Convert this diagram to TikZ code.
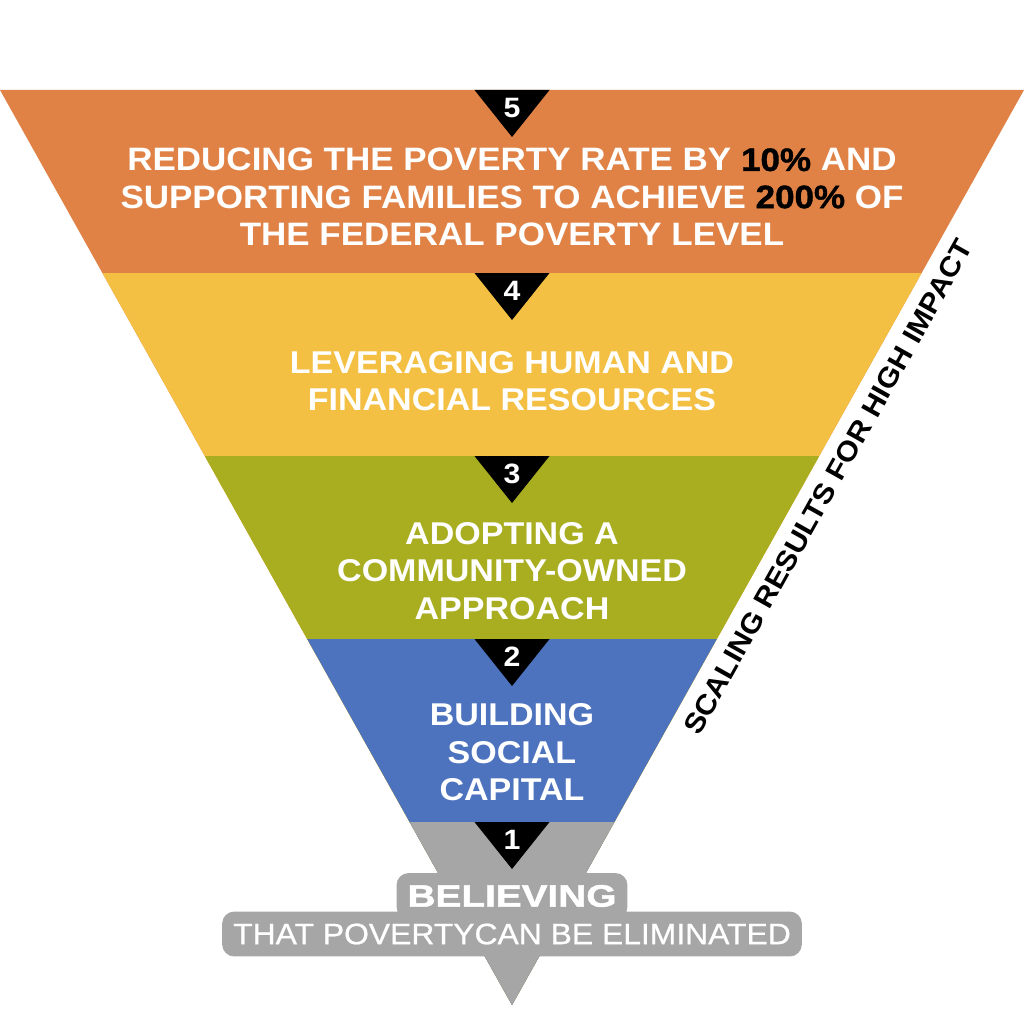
\documentclass[tikz,border=0pt]{standalone}
\usepackage{fontspec}
\setmainfont[FakeStretch=1.08]{Liberation Sans}
\newfontfamily\believefont[FakeStretch=1.25,FakeBold=1.5]{Liberation Sans}
\newfontfamily\linefont[FakeStretch=1.08,FakeBold=0.8]{Liberation Sans}
\newfontfamily\heavyfont[FakeStretch=1.08,FakeBold=1.2]{Liberation Sans}
\definecolor{band5}{RGB}{224,130,70}
\definecolor{band4}{RGB}{243,192,67}
\definecolor{band3}{RGB}{168,174,32}
\definecolor{band2}{RGB}{77,114,190}
\definecolor{band1}{RGB}{166,166,166}
\tikzset{
  bandtext/.style={text=white, align=center, font=\bfseries\fontsize{31.5}{37.5}\selectfont},
  numtext/.style={text=white, font=\bfseries\fontsize{28}{28}\selectfont},
  halo/.style={fill=band1, rounded corners=12pt, inner xsep=11pt, inner ysep=12pt, text=white}
}
\begin{document}
\begin{tikzpicture}[x=1pt,y=-1pt]
  \useasboundingbox (0,0) rectangle (1024,1024);
  \fill[band5] (0,90) -- (1024,90) -- (512,1005) -- cycle;
  \fill[band4] (102.4,273) -- (921.6,273) -- (512,1005) -- cycle;
  \fill[band3] (204.8,456) -- (819.2,456) -- (512,1005) -- cycle;
  \fill[band2] (307.2,639) -- (716.8,639) -- (512,1005) -- cycle;
  \fill[band1] (409.6,822) -- (614.4,822) -- (512,1005) -- cycle;
  \begin{scope}[black]
    \fill (474.5,90) -- (549.5,90) -- (512,137) -- cycle;
    \fill (474.5,273) -- (549.5,273) -- (512,320) -- cycle;
    \fill (474.5,456) -- (549.5,456) -- (512,503) -- cycle;
    \fill (474.5,639) -- (549.5,639) -- (512,686) -- cycle;
    \fill (474.5,822) -- (549.5,822) -- (512,869) -- cycle;
  \end{scope}
  \draw
    (512,108) node[numtext] (n5){5}
    (512,291) node[numtext] (n4){4}
    (512,474) node[numtext] (n3){3}
    (512,657) node[numtext] (n2){2}
    (512,840) node[numtext] (n1){1};
  \node[bandtext, font=\bfseries\fontsize{32.4}{37.2}\selectfont] (t5) at (512,197)
    {REDUCING THE POVERTY RATE BY {\heavyfont\bfseries\color{black}10\%} AND\\
     SUPPORTING FAMILIES TO ACHIEVE {\heavyfont\bfseries\color{black}200\%} OF\\
     THE FEDERAL POVERTY LEVEL};
  \node[bandtext] (t4) at (512,381) {LEVERAGING HUMAN AND\\FINANCIAL RESOURCES};
  \node[bandtext] (t3) at (512,571) {ADOPTING A\\COMMUNITY-OWNED\\APPROACH};
  \node[bandtext] (t2) at (512,752.5) {BUILDING\\SOCIAL\\CAPITAL};
  \node[halo, font=\linefont\fontsize{29.5}{29.5}\selectfont] (t1b) at (512,934)
    {THAT POVERTYCAN BE ELIMINATED};
  \node[halo, font=\believefont\bfseries\fontsize{31}{31}\selectfont] (t1a) at (512,896)
    {BELIEVING};
  \node[rotate=60.77, font=\bfseries\fontsize{28}{28}\selectfont] (side) at (828,487)
    {SCALING RESULTS FOR HIGH IMPACT};
\end{tikzpicture}
\end{document}
